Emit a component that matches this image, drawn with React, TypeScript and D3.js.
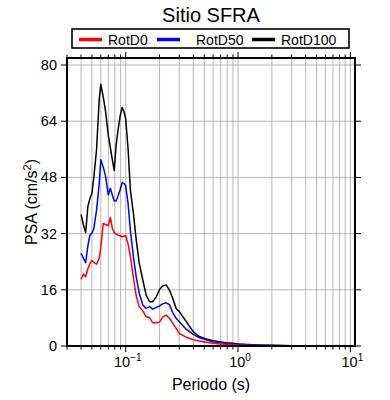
import * as d3 from "d3";

const periods = [0.040, 0.042, 0.044, 0.046, 0.048, 0.050, 0.052, 0.055, 0.058, 0.060, 0.063, 0.066, 0.070, 0.073, 0.076, 0.079, 0.082, 0.085, 0.089, 0.093, 0.097, 0.100, 0.105, 0.110, 0.117, 0.124, 0.132, 0.142, 0.152, 0.163, 0.174, 0.187, 0.200, 0.213, 0.229, 0.245, 0.262, 0.281, 0.300, 0.345, 0.40, 0.45, 0.52, 0.60, 0.68, 0.78, 0.90, 1.0, 1.2, 1.5, 2.0, 3.0, 4.0, 5.0, 7.0, 10.0];

const rotD100 = [37.5, 34.5, 32.3, 39.7, 42, 43.5, 48, 56, 70, 74.5, 71, 67, 60, 56.5, 53, 50, 57, 61, 65.3, 67.9, 66.5, 64.5, 56, 44.4, 37.8, 30.2, 23.5, 18.8, 14.5, 12.6, 12.6, 14.0, 16.1, 17.1, 17.4, 15.9, 13.6, 10.7, 9.8, 7, 4, 2.7, 2.0, 1.5, 1.2, 0.95, 0.75, 0.6, 0.45, 0.3, 0.2, 0.1, 0.07, 0.05, 0.03, 0.02];

const rotD50 = [26.4, 25, 23.7, 28.5, 31.6, 32.1, 33.5, 38.7, 46, 53, 51, 48.5, 43, 44.9, 43, 41.3, 41.3, 42.5, 44.4, 46.5, 46.3, 45.5, 40.5, 33, 25.5, 19.7, 15, 11.7, 10.7, 11.2, 10.5, 11, 11.4, 12, 12.3, 11.8, 9.5, 7.9, 6.9, 4.8, 3.3, 2.4, 1.8, 1.2, 1.0, 0.8, 0.6, 0.5, 0.35, 0.25, 0.15, 0.08, 0.05, 0.04, 0.03, 0.02];

const rotD0 = [19, 20.5, 19.7, 22, 23.5, 24.3, 23.8, 23.3, 25, 28, 34.9, 34.6, 34.3, 36.6, 33.5, 32.3, 31.9, 31.6, 31.4, 31.1, 31.3, 31.4, 29, 25.5, 19.5, 14.3, 11.2, 10, 8.3, 8.1, 6.6, 6.6, 6.8, 8.2, 8.8, 7.9, 6.5, 5.0, 3.6, 2.5, 1.8, 1.4, 1.1, 0.8, 0.6, 0.5, 0.4, 0.3, 0.2, 0.15, 0.1, 0.05, 0.03, 0.02, 0.02, 0.01];

const seriesNames = ["RotD0", "RotD50", "RotD100"];
const seriesColors = ["#ff0000", "#0000ff", "#000000"];
const seriesValues = [rotD0, rotD50, rotD100];

const yTicks = [0, 16, 32, 48, 64, 80];
const xMajor = [0.1, 1, 10];
const xMajorExp = ["\u22121", "0", "1"];

const W = 390;
const H = 400;
const L = 67, R = 355, T = 58, B = 346;
const FONT = "'Liberation Sans', Arial, Helvetica, sans-serif";

export default function App() {
  const x = d3.scaleLog().domain([0.03, 11]).range([L, R]);
  const y = d3.scaleLinear().domain([0, 82]).range([B, T]);

  // minor grid positions 1..9 x decade inside domain
  const minor: number[] = [];
  for (const dec of [0.01, 0.1, 1, 10]) {
    for (let k = 1; k <= 9; k++) {
      const v = +(k * dec).toPrecision(3);
      if (v >= 0.03 && v <= 11) minor.push(v);
    }
  }

  const line = d3.line<number>()
    .x((_, i) => x(periods[i]))
    .y(d => y(d));

  // draw order: black, blue, red
  const order = [2, 1, 0];

  return (
    <svg width={W} height={H} style={{ position: "absolute", left: 0, top: 0, background: "white" }} fontFamily={FONT}>
      {/* title */}
      <text x={(L + R) / 2} y={21.5} textAnchor="middle" fontSize={20}>Sitio SFRA</text>

      {/* grid */}
      <g stroke="#a6a6a6" strokeWidth={0.8}>
        {minor.map(v => (
          <line key={"gx" + v} x1={x(v)} x2={x(v)} y1={T} y2={B} />
        ))}
        {yTicks.slice(1).map(v => (
          <line key={"gy" + v} x1={L} x2={R} y1={y(v)} y2={y(v)} />
        ))}
      </g>

      {/* x ticks top & bottom */}
      <g stroke="#000" strokeWidth={1}>
        {minor.map(v => {
          const maj = xMajor.includes(v);
          const len = maj ? 6 : 3.5;
          return (
            <g key={"t" + v}>
              <line x1={x(v)} x2={x(v)} y1={T} y2={T - len} />
              <line x1={x(v)} x2={x(v)} y1={B} y2={B + len} />
            </g>
          );
        })}
        {yTicks.map(v => (
          <g key={"ty" + v}>
            <line x1={L} x2={L - 6} y1={y(v)} y2={y(v)} />
            <line x1={R} x2={R + 6} y1={y(v)} y2={y(v)} />
          </g>
        ))}
      </g>

      {/* y tick labels */}
      <g fontSize={14.5} textAnchor="end">
        {yTicks.map(v => (
          <text key={"yl" + v} x={L - 10} y={y(v) + 5}>{v}</text>
        ))}
      </g>

      {/* x tick labels */}
      <g fontSize={14.5} textAnchor="middle">
        {xMajor.map((v, i) => (
          <text key={"xl" + v} x={x(v) + 2} y={B + 21}>
            10<tspan fontSize={10} dy={-6}>{xMajorExp[i]}</tspan>
          </text>
        ))}
      </g>

      {/* axis labels */}
      <text x={(L + R) / 2} y={390} textAnchor="middle" fontSize={16}>Periodo (s)</text>
      <text transform={`translate(37,${(T + B) / 2}) rotate(-90)`} textAnchor="middle" fontSize={16}>
        PSA (cm/s<tspan fontSize={11} dy={-6}>2</tspan><tspan dy={6}>)</tspan>
      </text>

      {/* series */}
      <g fill="none" strokeWidth={1.5} strokeLinejoin="round">
        {order.map(i => (
          <path key={seriesNames[i]} d={line(seriesValues[i]) ?? ""} stroke={seriesColors[i]} />
        ))}
      </g>

      {/* frame */}
      <rect x={L} y={T} width={R - L} height={B - T} fill="none" stroke="#000" strokeWidth={2} />

      {/* legend */}
      <g>
        <rect x={72} y={29} width={277} height={19} fill="white" stroke="#000" strokeWidth={1.6} />
        {seriesNames.map((n, i) => {
          const lx = [79, 157, 252][i];
          return (
            <g key={"lg" + n}>
              <line x1={lx} x2={lx + 23} y1={39.5} y2={39.5} stroke={seriesColors[i]} strokeWidth={3.5} />
              <text x={lx + (i === 1 ? 39 : 29)} y={44.5} fontSize={14}>{n}</text>
            </g>
          );
        })}
      </g>
    </svg>
  );
}
